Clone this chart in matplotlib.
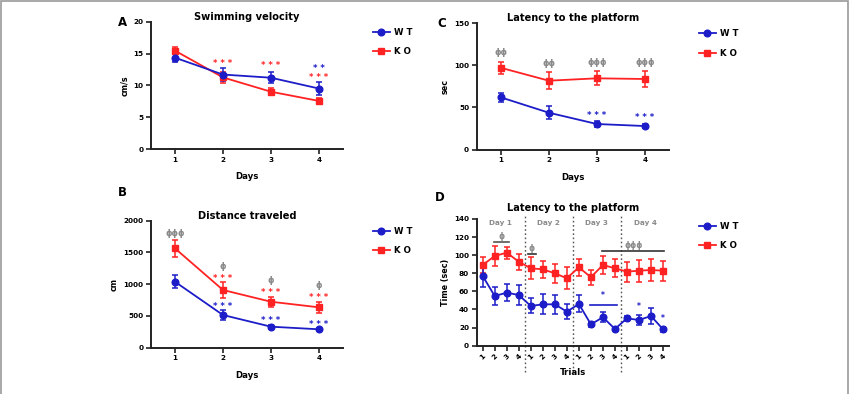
import numpy as np
import matplotlib
matplotlib.use("Agg")
import matplotlib.pyplot as plt
from matplotlib.patches import Rectangle

plt.rcParams['font.family'] = ['DejaVu Sans']
plt.rcParams['font.weight'] = 'bold'

BLUE = '#1c1cc8'
RED = '#ff2222'
GRAY = '#8a8a8a'

days = [1, 2, 3, 4]
trials = list(range(1, 17))
trial_labels = ['1', '2', '3', '4'] * 4

# A - swimming velocity (cm/s)
vel_wt = [14.35, 11.7, 11.2, 9.5]
vel_wt_err = [0.75, 1.05, 0.9, 1.05]
vel_ko = [15.45, 11.25, 9.0, 7.55]
vel_ko_err = [0.5, 0.85, 0.55, 0.5]

# B - distance traveled (cm)
dist_wt = [1039, 515, 331, 290]
dist_wt_err = [100, 80, 30, 25]
dist_ko = [1565, 909, 724, 636]
dist_ko_err = [130, 130, 80, 90]

# C - latency per day (sec)
lat_wt = [62, 43.8, 30.4, 28]
lat_wt_err = [5, 7.5, 3, 2.5]
lat_ko = [97, 81.7, 84.5, 83.7]
lat_ko_err = [7.3, 10, 8.3, 10]

# D - latency per trial (sec)
trial_wt = [77, 54.9, 58.6, 56, 43.9, 45.7, 45.7, 37.6,
             46.1, 23.6, 31.4, 18.5, 30.2, 28.4, 32.8, 18.1]
trial_wt_err = [11.6, 9.8, 9.2, 11, 8.3, 10.9, 10.5, 8.5,
                 9.4, 2.5, 5.5, 2, 2.5, 5.5, 8.3, 2.5]
trial_ko = [89.2, 99.1, 102.8, 92.8, 85.5, 84.4, 80, 74.5,
             86.6, 75.6, 89.2, 85.5, 81.8, 82.9, 83.6, 82.9]
trial_ko_err = [9, 10.5, 6.5, 9, 12, 9.6, 10.7, 12,
                 9.4, 8.3, 10.3, 10, 11, 12.3, 11.8, 11]
day_names = ['Day 1', 'Day 2', 'Day 3', 'Day 4']

fig = plt.figure(figsize=(8.5, 3.94), dpi=100)
fig.patches.append(Rectangle((0.0015, -0.01), 0.996, 1.007, transform=fig.transFigure,
                             fill=False, edgecolor='#9a9a9a', linewidth=1.2))


def style(ax, xlim, ylim, yticks):
    for s in ['top', 'right']:
        ax.spines[s].set_visible(False)
    for s in ['left', 'bottom']:
        ax.spines[s].set_linewidth(1.4)
        ax.spines[s].set_color('#222222')
    ax.set_xlim(*xlim)
    ax.set_ylim(*ylim)
    ax.set_yticks(yticks)
    ax.tick_params(width=1.2, length=3.5, labelsize=5.2, pad=2, color='#222222')


def draw(ax, x, wt, wt_err, ko, ko_err, leg_y=0.95):
    ax.errorbar(x, ko, yerr=ko_err, fmt='none', ecolor=RED, elinewidth=1.1,
                capsize=2.2, capthick=1.1, zorder=3)
    ax.errorbar(x, wt, yerr=wt_err, fmt='none', ecolor=BLUE, elinewidth=1.1,
                capsize=2.2, capthick=1.1, zorder=4)
    l1, = ax.plot(x, wt, color=BLUE, marker='o', markersize=4.8, linewidth=1.3,
                  label='W T', zorder=5, clip_on=False)
    l2, = ax.plot(x, ko, color=RED, marker='s', markersize=4.8, linewidth=1.3,
                  label='K O', zorder=4, clip_on=False)
    ax.legend(handles=[l1, l2], loc='upper left', bbox_to_anchor=(1.155, leg_y),
              frameon=False, fontsize=6.2, handlelength=2.0, handletextpad=0.5,
              labelspacing=1.2, borderpad=0, borderaxespad=0)


def mark(ax, x, y, s, color, size=6):
    ax.text(x, y, s, color=color, fontsize=size, ha='center', va='center',
            fontweight='bold', clip_on=False)


def titles(ax, letter, lpos, title, ylabel, xlabel='Days', tpad=-0.5):
    ax.set_title(title, fontsize=7.1, fontweight='bold', pad=tpad)
    ax.set_ylabel(ylabel, fontsize=5.8, fontweight='bold', labelpad=3)
    ax.set_xlabel(xlabel, fontsize=6.2, fontweight='bold', labelpad=7)
    ax.text(lpos[0], lpos[1], letter, transform=ax.transAxes, fontsize=8.5,
            fontweight='bold', ha='center', va='center')


# A
axA = fig.add_axes([0.1776, 0.6218, 0.2259, 0.3231])
draw(axA, days, vel_wt, vel_wt_err, vel_ko, vel_ko_err)
style(axA, (0.5, 4.5), (0, 20), [0, 5, 10, 15, 20])
axA.set_xticks(days)
titles(axA, 'A', (-0.15, 0.99), 'Swimming velocity', 'cm/s')
mark(axA, 2, 13.5, '* * *', RED)
mark(axA, 3, 13.05, '* * *', RED)
mark(axA, 4, 12.7, '* *', BLUE)
mark(axA, 4, 11.25, '* * *', RED)

# B
axB = fig.add_axes([0.1776, 0.1175, 0.2259, 0.3223])
draw(axB, days, dist_wt, dist_wt_err, dist_ko, dist_ko_err)
style(axB, (0.5, 4.5), (0, 2000), [0, 500, 1000, 1500, 2000])
axB.set_xticks(days)
titles(axB, 'B', (-0.15, 1.225), 'Distance traveled', 'cm')
mark(axB, 1, 1800, 'ϕϕϕ', GRAY)
for d, yp in zip([2, 3, 4], [1286, 1066, 976]):
    mark(axB, d, yp, 'ϕ', GRAY)
for d, yp in zip([2, 3, 4], [1093, 872, 787]):
    mark(axB, d, yp, '* * *', RED)
for d, yp in zip([2, 3, 4], [656, 436, 373]):
    mark(axB, d, yp, '* * *', BLUE)

# C
axC = fig.add_axes([0.5608, 0.6201, 0.2263, 0.3215])
draw(axC, days, lat_wt, lat_wt_err, lat_ko, lat_ko_err)
style(axC, (0.5, 4.5), (0, 150), [0, 50, 100, 150])
axC.set_xticks(days)
titles(axC, 'C', (-0.18, 1.0), 'Latency to the platform', 'sec', tpad=0)
for d, yp, s in zip(days, [115, 102.3, 103.4, 103.4], ['ϕϕ', 'ϕϕ', 'ϕϕϕ', 'ϕϕϕ']):
    mark(axC, d, yp, s, GRAY)
mark(axC, 3, 40, '* * *', BLUE)
mark(axC, 4, 38, '* * *', BLUE)

# D
axD = fig.add_axes([0.5608, 0.1226, 0.2263, 0.3216])
draw(axD, trials, trial_wt, trial_wt_err, trial_ko, trial_ko_err, leg_y=0.98)
style(axD, (0.5, 16.5), (0, 140), [0, 20, 40, 60, 80, 100, 120, 140])
axD.set_xticks(trials)
axD.set_xticklabels(trial_labels, rotation=45)
titles(axD, 'D', (-0.19, 1.17), 'Latency to the platform', 'Time (sec)', 'Trials', tpad=6)
axD.xaxis.labelpad = 5
for xv in [4.5, 8.5, 12.5]:
    axD.plot([xv, xv], [-29, 144], linestyle=(0, (1.2, 1.8)), color='#555555',
             linewidth=1.0, clip_on=False, zorder=1)
for i, name in enumerate(day_names):
    axD.text(2.5 + 4 * i, 135.5, name, color=GRAY, fontsize=5.2, ha='center',
             va='center', fontweight='bold')
axD.plot([1.9, 3.2], [115, 115], color='#555555', linewidth=1.2)
mark(axD, 2.55, 120.5, 'ϕ', GRAY, 5.5)
axD.plot([4.75, 5.4], [101, 101], color='#333333', linewidth=1.2)
mark(axD, 5.05, 107, 'ϕ', GRAY, 5.5)
axD.plot([10.9, 16.1], [105, 105], color='#333333', linewidth=1.2)
mark(axD, 13.6, 110.5, 'ϕϕϕ', GRAY, 5.5)
axD.plot([9.9, 12.2], [45, 45], color=BLUE, linewidth=1.2)
mark(axD, 11, 55, '*', BLUE, 5.5)
mark(axD, 13.95, 43, '*', BLUE, 5.5)
mark(axD, 15.95, 30, '*', BLUE, 5.5)

fig.savefig('out.png', dpi=100)
